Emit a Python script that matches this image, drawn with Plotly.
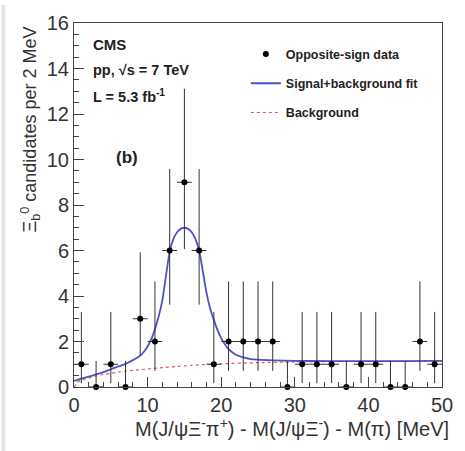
import plotly.graph_objects as go

# ---- data ----
bin_centers = [1, 3, 5, 7, 9, 11, 13, 15, 17, 19, 21, 23, 25, 27, 29,
               31, 33, 35, 37, 39, 41, 43, 45, 47, 49]
counts = [1, 0, 1, 0, 3, 2, 6, 9, 6, 1, 2, 2, 2, 2, 0,
          1, 1, 1, 0, 1, 1, 0, 0, 2, 1]
err_up = [2.30, 1.15, 2.30, 1.15, 2.92, 2.64, 3.58, 4.11, 3.58, 2.30, 2.64, 2.64, 2.64, 2.64, 1.15,
          2.30, 2.30, 2.30, 1.15, 2.30, 2.30, 1.15, 1.15, 2.64, 2.30]
err_down = [0.83, 0.0, 0.83, 0.0, 1.63, 1.29, 2.38, 2.94, 2.38, 0.83, 1.29, 1.29, 1.29, 1.29, 0.0,
            0.83, 0.83, 0.83, 0.0, 0.83, 0.83, 0.0, 0.0, 1.29, 0.83]
bin_half_width = [1] * len(bin_centers)

fit_x = [0, 1, 2, 3, 4, 5, 6, 7, 8, 9, 9.5, 10, 10.5, 11, 11.5, 12, 12.5, 13, 13.5, 14, 14.5,
         15, 15.5, 16, 16.5, 17, 17.5, 18, 18.5, 19, 19.5, 20, 21, 22, 23, 24, 25, 27, 30,
         35, 40, 45, 50]
fit_y = [0.27, 0.37, 0.46, 0.55, 0.65, 0.78, 0.90, 1.02, 1.18, 1.38, 1.55, 1.78, 2.10, 2.55, 3.10,
         3.80, 4.90, 5.95, 6.50, 6.80, 6.95, 7.00, 6.95, 6.80, 6.50, 6.00, 5.10, 4.15, 3.45,
         2.95, 2.50, 2.15, 1.66, 1.42, 1.30, 1.23, 1.20, 1.17, 1.15, 1.14, 1.14, 1.14, 1.15]

bkg_x = [0, 0.5, 1, 2, 3, 4, 5, 6, 7, 8, 10, 12, 14, 16, 18, 20, 25, 30, 35, 40, 45, 50]
bkg_y = [0.0, 0.22, 0.30, 0.40, 0.48, 0.55, 0.60, 0.65, 0.70, 0.73, 0.79, 0.85, 0.90, 0.95,
         0.99, 1.02, 1.07, 1.10, 1.12, 1.13, 1.14, 1.15]

FONT = "Liberation Sans, Arial, Helvetica, sans-serif"

fig = go.Figure()

fig.add_trace(go.Scatter(
    x=bkg_x, y=bkg_y, mode="lines", name="<b>Background</b>",
    line=dict(color="#e05a5a", width=1.2, dash="dot", shape="spline", smoothing=0.6),
    legendgroup="c", legendrank=3,
))
fig.add_trace(go.Scatter(
    x=fit_x, y=fit_y, mode="lines", name="<b>Signal+background fit</b>",
    line=dict(color="#5050c8", width=1.8, shape="spline", smoothing=0.6),
    legendgroup="b", legendrank=2,
))
fig.add_trace(go.Scatter(
    x=bin_centers, y=counts, mode="markers", name="<b>Opposite-sign data</b>",
    marker=dict(color="black", size=6),
    error_y=dict(type="data", symmetric=False, array=err_up, arrayminus=err_down,
                 color="#333333", thickness=1, width=0),
    error_x=dict(type="data", array=bin_half_width, color="#333333", thickness=1, width=0),
    legendgroup="a", legendrank=1,
    cliponaxis=False,
))

axis_common = dict(
    showline=True, linecolor="#444444", linewidth=1, mirror=True,
    ticks="inside", ticklen=10, tickcolor="#444444", tickwidth=1,
    showgrid=False, zeroline=False,
    tickfont=dict(family=FONT, size=20, color="#333333"),
)

fig.update_xaxes(range=[0, 50], dtick=10, tick0=0,
                 minor=dict(dtick=2, ticks="inside", ticklen=5, tickcolor="#444444"),
                 **axis_common)
fig.update_yaxes(range=[0, 16], dtick=2, tick0=0,
                 minor=dict(dtick=0.5, ticks="inside", ticklen=5, tickcolor="#444444"),
                 **axis_common)

annotations = [
    dict(text="M(J/ψΞ<sup>-</sup>π<sup>+</sup>) - M(J/ψΞ<sup>-</sup>) - M(π) [MeV]",
         xref="paper", yref="paper", x=1.025, y=-0.111, xanchor="right", yanchor="middle",
         showarrow=False, font=dict(family=FONT, size=20, color="#333333")),
    dict(text="Ξ<sub>b</sub><sup>0</sup> candidates per 2 MeV",
         xref="paper", yref="paper", x=-0.118, y=0.995, xanchor="center", yanchor="top",
         textangle=-90, showarrow=False, font=dict(family=FONT, size=18, color="#333333")),
    dict(text="<b>CMS</b>", xref="paper", yref="paper", x=0.045, y=0.941,
         xanchor="left", yanchor="middle", showarrow=False,
         font=dict(family=FONT, size=15, color="#222222")),
    dict(text="<b>pp, √s = 7 TeV</b>", xref="paper", yref="paper", x=0.045, y=0.870,
         xanchor="left", yanchor="middle", showarrow=False,
         font=dict(family=FONT, size=14.5, color="#222222")),
    dict(text="<b>L = 5.3 fb<sup>-1</sup></b>", xref="paper", yref="paper", x=0.045, y=0.800,
         xanchor="left", yanchor="middle", showarrow=False,
         font=dict(family=FONT, size=14.5, color="#222222")),
    dict(text="<b>(b)</b>", xref="paper", yref="paper", x=0.108, y=0.630,
         xanchor="left", yanchor="middle", showarrow=False,
         font=dict(family=FONT, size=17, color="#222222")),
]

fig.update_layout(
    width=465, height=451,
    margin=dict(l=74, r=15, t=17, b=64),
    paper_bgcolor="white", plot_bgcolor="white",
    showlegend=True,
    legend=dict(x=0.467, y=0.955, xanchor="left", yanchor="top",
                traceorder="grouped", tracegroupgap=10,
                bgcolor="rgba(0,0,0,0)", itemwidth=30,
                font=dict(family=FONT, size=12.5, color="#222222")),
    annotations=annotations,
    shapes=[dict(type="rect", xref="paper", yref="paper", x0=-0.197, x1=-0.187,
                 y0=-0.2, y1=1.05, fillcolor="#e4e4e4", line=dict(width=0), layer="below")],
)

fig.write_html("out.html")
